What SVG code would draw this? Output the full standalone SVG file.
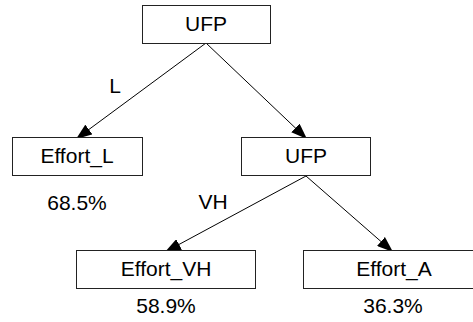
<svg xmlns="http://www.w3.org/2000/svg" width="473" height="322" viewBox="0 0 473 322">
<style>
.box{fill:#fff;stroke:#222;stroke-width:1}
.edge{stroke:#000;stroke-width:1;fill:none}
text{font-family:"Liberation Sans",Arial,sans-serif;font-size:21px;fill:#000;text-anchor:middle}
</style>
<defs>
<marker id="arr" viewBox="0 0 16 12" markerWidth="16" markerHeight="12" refX="16" refY="6" orient="auto" markerUnits="userSpaceOnUse">
<path d="M0,0 L16,6 L0,12 z" fill="#000"/>
</marker>
</defs>
<rect width="473" height="322" fill="#fff"/>
<g id="edges">
<line class="edge" x1="206" y1="43" x2="76" y2="139" marker-end="url(#arr)"/>
<line class="edge" x1="206" y1="43" x2="307" y2="139" marker-end="url(#arr)"/>
<line class="edge" x1="306" y1="176" x2="165" y2="252" marker-end="url(#arr)"/>
<line class="edge" x1="306" y1="176" x2="393" y2="252" marker-end="url(#arr)"/>
<text x="115" y="93">L</text>
<text x="213" y="209">VH</text>
</g>
<g id="n_ufp_root">
<rect class="box" x="142.5" y="5.5" width="128" height="38"/>
<text x="206" y="31">UFP</text>
</g>
<g id="n_effort_l">
<rect class="box" x="12.5" y="137.5" width="130" height="38"/>
<text x="77" y="163">Effort_L</text>
<text x="77" y="210">68.5%</text>
</g>
<g id="n_ufp2">
<rect class="box" x="241.5" y="137.5" width="129" height="38"/>
<text x="306" y="163">UFP</text>
</g>
<g id="n_effort_vh">
<rect class="box" x="76.5" y="250.5" width="179" height="38"/>
<text x="166" y="276">Effort_VH</text>
<text x="166" y="313">58.9%</text>
</g>
<g id="n_effort_a">
<rect class="box" x="303.5" y="250.5" width="180" height="38"/>
<text x="394" y="276">Effort_A</text>
<text x="393" y="313">36.3%</text>
</g>
</svg>
